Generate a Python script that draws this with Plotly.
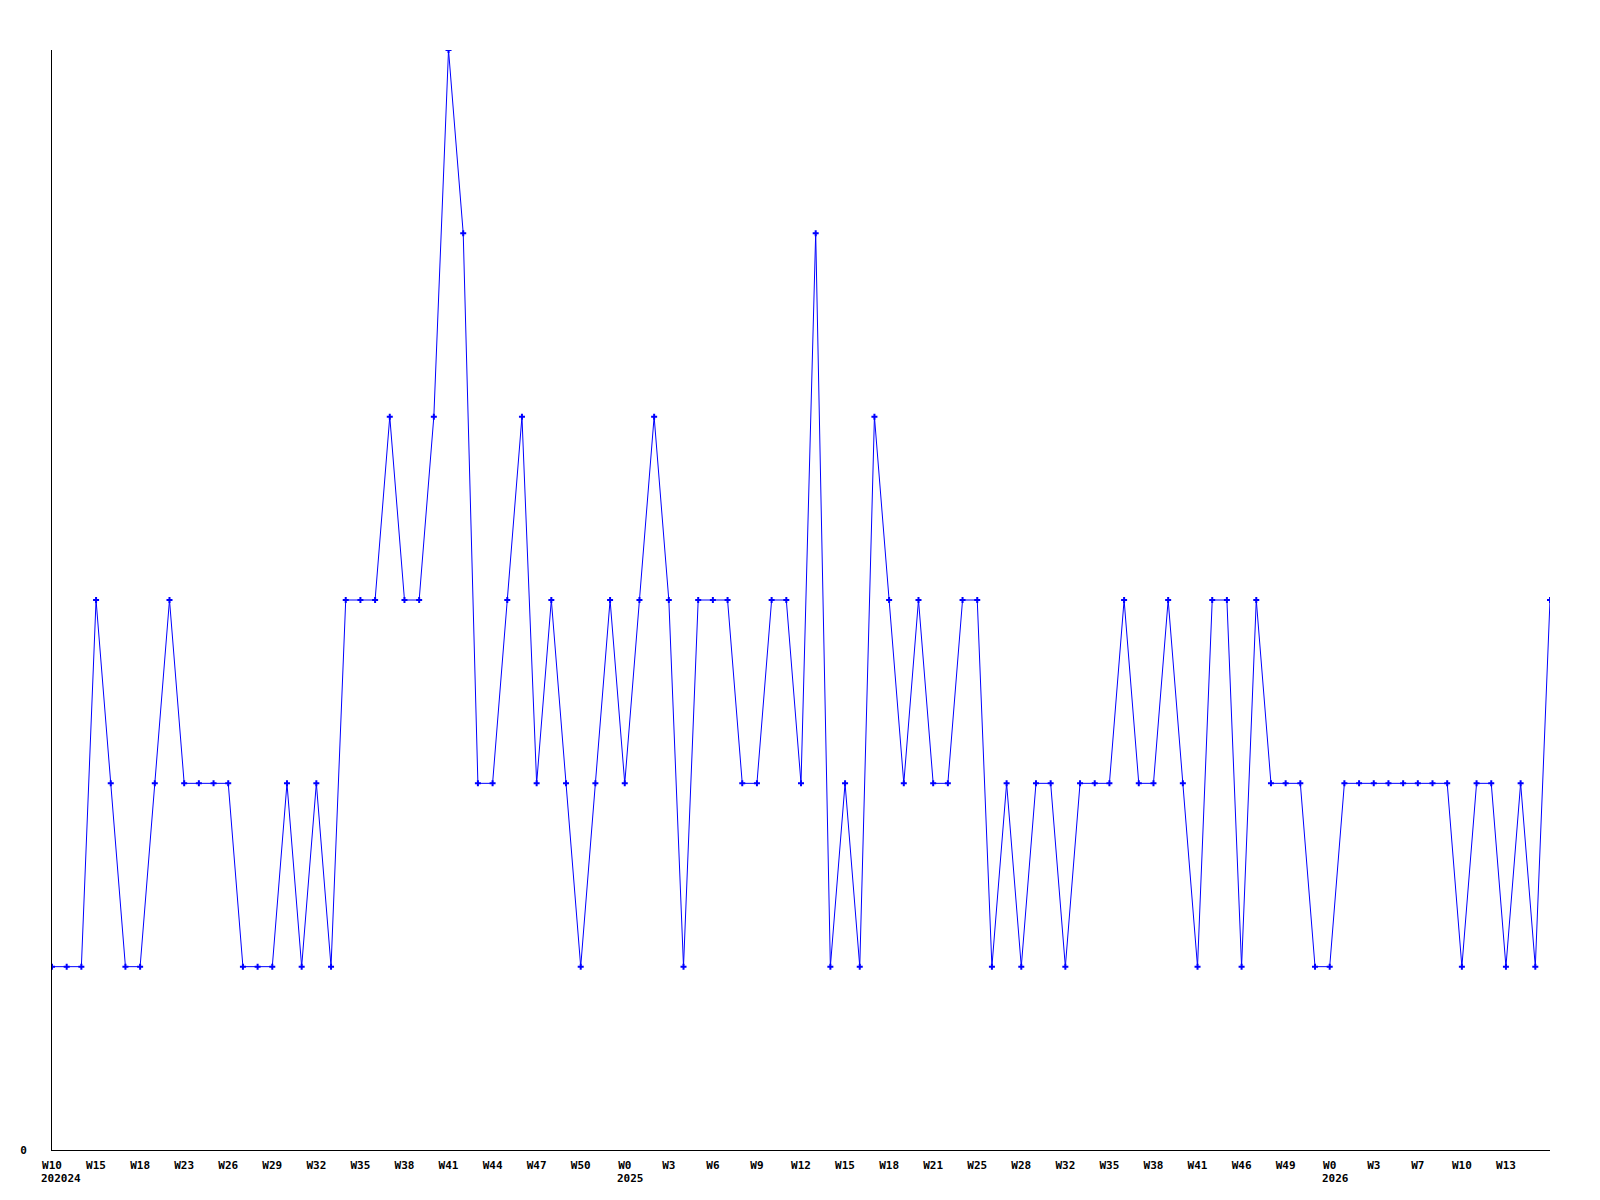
import plotly.graph_objects as go

# weekly counts, one point per week
counts = [1, 1, 1, 3, 2, 1, 1, 2, 3, 2, 2, 2, 2, 1, 1, 1, 2, 1, 2, 1,
          3, 3, 3, 4, 3, 3, 4, 6, 5, 2, 2, 3, 4, 2, 3, 2, 1, 2, 3, 2,
          3, 4, 3, 1, 3, 3, 3, 2, 2, 3, 3, 2, 5, 1, 2, 1, 4, 3, 2, 3,
          2, 2, 3, 3, 1, 2, 1, 2, 2, 1, 2, 2, 2, 3, 2, 2, 3, 2, 1, 3,
          3, 1, 3, 2, 2, 2, 1, 1, 2, 2, 2, 2, 2, 2, 2, 2, 1, 2, 2, 1,
          2, 1, 3]

# a label on every third week
week_labels = ['W10', 'W15', 'W18', 'W23', 'W26', 'W29', 'W32', 'W35', 'W38', 'W41',
               'W44', 'W47', 'W50', 'W0', 'W3', 'W6', 'W9', 'W12', 'W15', 'W18',
               'W21', 'W25', 'W28', 'W32', 'W35', 'W38', 'W41', 'W46', 'W49', 'W0',
               'W3', 'W7', 'W10', 'W13']
label_step = 3

# year captions under the first week of each year (index into week_labels)
year_labels = {0: '202024', 13: '2025', 29: '2026'}

x = list(range(len(counts)))
tick_pos = [i * label_step for i in range(len(week_labels))]

font = dict(family='DejaVu Sans Mono', size=11, color='black', weight='bold')

fig = go.Figure()
fig.add_trace(go.Scatter(
    x=x,
    y=counts,
    mode='lines+markers',
    line=dict(color='#0000ff', width=1),
    marker=dict(symbol='cross', size=5, color='#0000ff'),
    showlegend=False
))

# year captions, left aligned with the week label above
for idx, year in year_labels.items():
    fig.add_annotation(
        x=tick_pos[idx], y=0, xref='x', yref='paper',
        text=year, showarrow=False,
        xanchor='left', yanchor='top',
        xshift=-len(week_labels[idx]) * 3.3 - 3, yshift=-20,
        font=font
    )

# the page body adds an 8px margin, so the figure is 8px smaller
fig.update_layout(
    width=1592, height=1192,
    margin=dict(l=42, r=50, t=42, b=50),
    plot_bgcolor='white',
    paper_bgcolor='white',
    xaxis=dict(
        range=[0, len(counts) - 1],
        tickmode='array', tickvals=tick_pos, ticktext=week_labels,
        showgrid=False, zeroline=False,
        showline=True, linecolor='black', linewidth=1,
        ticks='', tickfont=font, ticklabelstandoff=5
    ),
    yaxis=dict(
        range=[0, 6],
        tickmode='array', tickvals=[0], ticktext=['0'],
        showgrid=False, zeroline=False,
        showline=True, linecolor='black', linewidth=1,
        ticks='', tickfont=font, ticklabelstandoff=22
    )
)

fig.write_html('out.html')
